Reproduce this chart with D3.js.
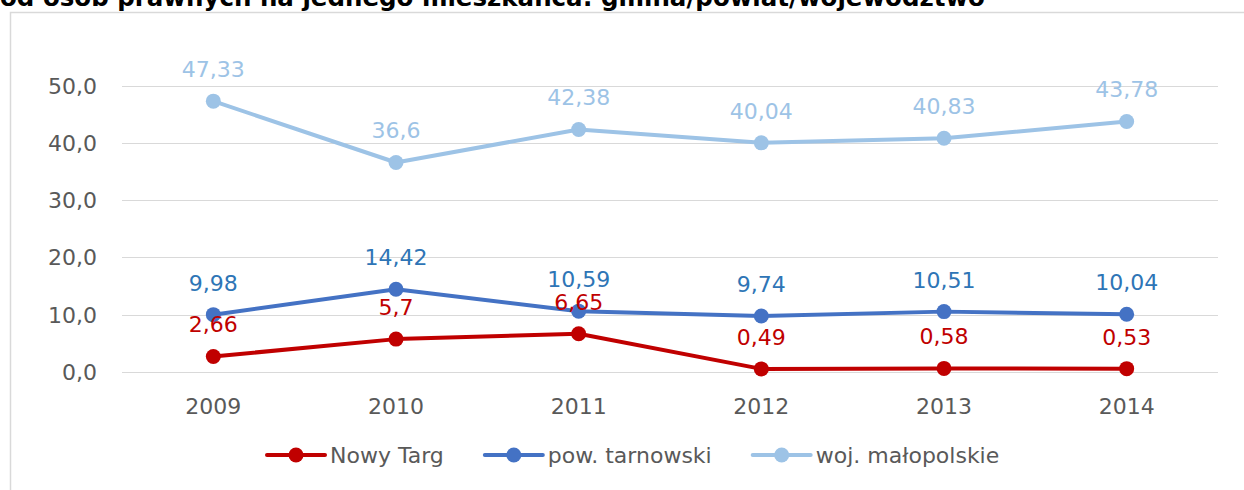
<!DOCTYPE html>
<html lang="pl">
<head>
    <meta charset="UTF-8">
    <title>Dochody od osób prawnych na jednego mieszkańca</title>
    <script src="https://d3js.org/d3.v7.min.js"></script>
    <style>
        body { margin: 0; background: #fff; }
        svg { display: block; font-family: "DejaVu Sans", sans-serif; }
        .grid line { stroke: #d9d9d9; stroke-width: 1; }
        .tick-label { fill: #595959; font-size: 22px; }
        .point-label { font-size: 22px; }
    </style>
</head>
<body>
    <div id="chart"></div>
    <script>
        // dane
        const years = ["2009", "2010", "2011", "2012", "2013", "2014"];
        const seriesNames = ["Nowy Targ", "pow. tarnowski", "woj. małopolskie"];
        const nowyTarg = [2.66, 5.7, 6.65, 0.49, 0.58, 0.53];
        const powTarnowski = [9.98, 14.42, 10.59, 9.74, 10.51, 10.04];
        const wojMalopolskie = [47.33, 36.6, 42.38, 40.04, 40.83, 43.78];
        const yTicks = [0, 10, 20, 30, 40, 50];

        const lineColors = ["#c00000", "#4472c4", "#9dc3e6"];
        const labelColors = ["#c00000", "#2e75b6", "#9dc3e6"];

        const series = [nowyTarg, powTarnowski, wojMalopolskie].map((vals, i) => ({
            name: seriesNames[i],
            color: lineColors[i],
            labelColor: labelColors[i],
            values: vals.map((v, j) => ({ year: years[j], value: v }))
        }));

        const width = 1244, height = 490;
        const svg = d3.select("#chart").append("svg")
            .attr("width", width)
            .attr("height", height);

        // ramka wykresu (wychodzi poza kadr)
        svg.append("rect")
            .attr("x", 10.5).attr("y", 12.5)
            .attr("width", 1400).attr("height", 600)
            .attr("fill", "none")
            .attr("stroke", "#d9d9d9")
            .attr("stroke-width", 1.5);

        // tytuł (ucięty u góry)
        svg.append("text")
            .attr("x", 0)
            .attr("y", 6)
            .attr("font-weight", "bold")
            .attr("font-size", 24.5)
            .attr("fill", "#000")
            .text("od osób prawnych na jednego mieszkańca: gmina/powiat/województwo");

        const x = d3.scaleBand().domain(years).range([122, 1218]);
        const y = d3.scaleLinear().domain([0, 50]).range([371.7, 85.9]);
        const cx = d => x(d) + x.bandwidth() / 2;

        // linie siatki
        svg.append("g").attr("class", "grid")
            .selectAll("line").data(yTicks).join("line")
            .attr("x1", 122).attr("x2", 1218)
            .attr("y1", d => Math.round(y(d)) + 0.5)
            .attr("y2", d => Math.round(y(d)) + 0.5);

        // oś Y
        svg.append("g").selectAll("text").data(yTicks).join("text")
            .attr("class", "tick-label")
            .attr("x", 97)
            .attr("y", d => y(d) + 8)
            .attr("text-anchor", "end")
            .text(d => d3.format(".1f")(d).replace(".", ","));

        // oś X
        svg.append("g").selectAll("text").data(years).join("text")
            .attr("class", "tick-label")
            .attr("x", d => cx(d))
            .attr("y", 414)
            .attr("text-anchor", "middle")
            .text(d => d);

        const line = d3.line()
            .x(d => cx(d.year))
            .y(d => y(d.value));

        // rysowanie od jasnoniebieskiej do czerwonej
        const order = [2, 1, 0];
        order.forEach(i => {
            const s = series[i];
            const g = svg.append("g");
            g.append("path")
                .datum(s.values)
                .attr("fill", "none")
                .attr("stroke", s.color)
                .attr("stroke-width", 4)
                .attr("stroke-linejoin", "round")
                .attr("d", line);
            g.selectAll("circle").data(s.values).join("circle")
                .attr("cx", d => cx(d.year))
                .attr("cy", d => y(d.value))
                .attr("r", 7.5)
                .attr("fill", s.color);
        });
        order.forEach(i => {
            const s = series[i];
            svg.append("g").selectAll("text").data(s.values).join("text")
                .attr("class", "point-label")
                .attr("x", d => cx(d.year))
                .attr("y", d => y(d.value) - 24)
                .attr("text-anchor", "middle")
                .attr("fill", s.labelColor)
                .text(d => String(d.value).replace(".", ","));
        });

        // legenda
        const legend = svg.append("g");
        let lx = 267;
        const ly = 455;
        series.forEach(s => {
            const item = legend.append("g");
            item.append("line")
                .attr("x1", lx).attr("x2", lx + 58)
                .attr("y1", ly).attr("y2", ly)
                .attr("stroke", s.color)
                .attr("stroke-width", 4)
                .attr("stroke-linecap", "round");
            item.append("circle")
                .attr("cx", lx + 29).attr("cy", ly).attr("r", 7.5)
                .attr("fill", s.color);
            const t = item.append("text")
                .attr("class", "tick-label")
                .attr("x", lx + 63)
                .attr("y", ly + 8)
                .text(s.name);
            lx += 63 + t.node().getComputedTextLength() + 41;
        });
    </script>
</body>
</html>
